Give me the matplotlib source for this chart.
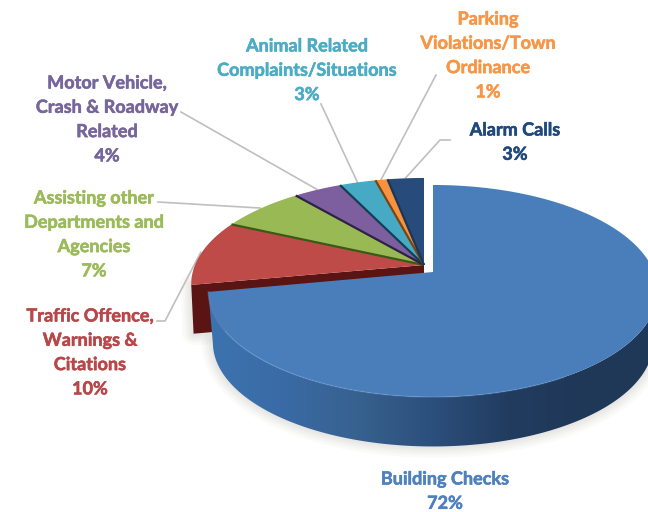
import numpy as np
import matplotlib.pyplot as plt
import matplotlib.patheffects as pe
from matplotlib.colors import LinearSegmentedColormap
from matplotlib.patches import Polygon

# Calls for service, percent of total
categories = ['Building Checks', 'Traffic Offence,\nWarnings &\nCitations',
              'Assisting other\nDepartments and\nAgencies',
              'Motor Vehicle,\nCrash & Roadway\nRelated',
              'Animal Related\nComplaints/Situations',
              'Parking\nViolations/Town\nOrdinance', 'Alarm Calls']
values = [72, 10, 7, 4, 3, 1, 3]

face_colors = ['#4a7ebb', '#be4b48', '#98b954', '#7d5fa0', '#46aac5', '#f69240', '#274b7a']
edge_colors = ['#4a7ebb', '#6a1a18', '#3a5a18', '#2e2048', '#123f55', '#7a4510', '#1c3658']
text_colors = ['#4f81bd', '#b8474a', '#9bbb59', '#77669c', '#4bacc6', '#f79646', '#1f497d']

# label centre x and y of the first line
label_pos = [(445, 479), (90, 316), (94, 198), (107, 83), (307, 46), (488, 19), (515, 130)]

# knee points of the leader lines, label end first
leaders = [None,
           [(157, 321), (165, 321)],
           [(158, 202)],
           [(181, 112)],
           [(321, 104)],
           [(436, 75)],
           [(450, 140), (440, 140)]]

PERSP = 0.179
DEPTH = 52
BOTTOM_SCALE = 0.98


def rim_point(cx, cy, a, s, theta, scale=1.0, drop=0.0):
    """Project a point of the pie circle, theta clockwise from 12 o'clock."""
    u, v = np.sin(theta), np.cos(theta)
    w = 1 + PERSP * v
    return np.column_stack([cx + a * scale * u / w, cy + drop - s * scale * v / w])


def soft_shadow(ax, pts):
    # stacked outlines with low alpha make a soft edge
    for lw in [16, 12, 9, 6, 3]:
        ax.add_patch(Polygon(pts, closed=True, facecolor='none', edgecolor='#7f7868',
                             lw=lw, alpha=0.035, joinstyle='round', zorder=1))


fig = plt.figure(figsize=(6.48, 5.12), dpi=100)
ax = fig.add_axes([0, 0, 1, 1])
ax.axis('off')

fractions = np.cumsum([0] + values) / sum(values) * 2 * np.pi

# the small slices stay together, the large one is pulled out
group = dict(cx=424, cy=265, a=229, s=102.6)
main = dict(cx=433, cy=272, a=221, s=102.6)

# cut face of the red slice behind the pulled out slice
t = fractions[1]
top = rim_point(theta=t, **group)[0]
low = rim_point(theta=t, scale=0.99, drop=49, **group)[0]
apex = np.array([group['cx'], group['cy']])
face = [apex, top, low, apex + [0, 49]]
soft_shadow(ax, np.array([low, low + [60, 0], top]))
ax.add_patch(Polygon(face, closed=True, facecolor='#5a1414', edgecolor='none', zorder=2))

for i in range(1, len(values)):
    ts = np.linspace(fractions[i], fractions[i + 1], 30)
    arc = rim_point(theta=ts, **group)
    pts = np.vstack([apex, arc])
    ax.add_patch(Polygon(pts, closed=True, facecolor=face_colors[i], edgecolor='none', zorder=3))
    # dark seam on the far edge of each slice
    if i > 1:
        ax.plot([apex[0], arc[0, 0]], [apex[1], arc[0, 1]], color=edge_colors[i], lw=1.6,
                solid_capstyle='butt', zorder=4)

# side wall of the large slice
ts = np.linspace(np.radians(70), fractions[1], 160)
upper = rim_point(theta=ts, **main)
lower = rim_point(theta=ts, scale=BOTTOM_SCALE, drop=DEPTH, **main)
side = np.vstack([upper, lower[::-1]])
soft_shadow(ax, lower)
wall_cmap = LinearSegmentedColormap.from_list(
    'wall', ['#3c74b0', '#3a6ba6', '#37618f', '#2c4f7c', '#223c60', '#1f3858', '#1f3858'])
side_patch = Polygon(side, closed=True, facecolor='none', edgecolor='none', zorder=5)
ax.add_patch(side_patch)
gradient = np.linspace(0, 1, 256).reshape(1, -1)
wall = ax.imshow(gradient, extent=(205, 660, 460, 280), aspect='auto', cmap=wall_cmap, zorder=5)
wall.set_clip_path(side_patch)

# top surface of the large slice
ts = np.linspace(0, fractions[1], 240)
arc = rim_point(theta=ts, **main)
main_apex = np.array([main['cx'], main['cy']])
ax.add_patch(Polygon(np.vstack([main_apex, arc]), closed=True, facecolor=face_colors[0],
                     edgecolor='none', zorder=6))
front = rim_point(theta=np.linspace(np.radians(150), fractions[1], 120), **main)
ax.plot(front[:, 0], front[:, 1], color='#6b9ad0', lw=1.2, alpha=0.35, zorder=7)

# leader lines run to the rim at the middle of each slice
for i, knees in enumerate(leaders):
    if knees is None:
        continue
    mid = (fractions[i] + fractions[i + 1]) / 2
    end = rim_point(theta=mid, scale=1.005, **group)[0]
    xs = [p[0] for p in knees] + [end[0]]
    ys = [p[1] for p in knees] + [end[1]]
    ax.plot(xs, ys, color='#bfbfbf', lw=1.2, zorder=2)

# labels, one text per line to hold the line pitch
for name, val, pos, col in zip(categories, values, label_pos, text_colors):
    lines = name.split('\n') + [f'{val}%']
    for j, line in enumerate(lines):
        txt = ax.text(pos[0], pos[1] + j * 24.3, line, color=col, fontsize=13, fontweight='bold',
                      family='Lato', ha='center', va='center', zorder=8)
        # a thin outline gives the heavier weight
        txt.set_path_effects([pe.withStroke(linewidth=0.4, foreground=col)])

ax.set_xlim(0, 648)
ax.set_ylim(512, 0)
fig.savefig('out.png', dpi=100)
